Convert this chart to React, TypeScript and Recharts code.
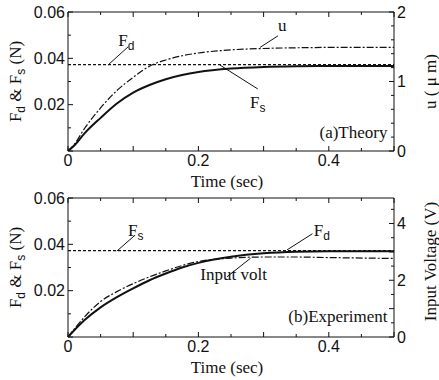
import React from 'react';
import { LineChart, Line, XAxis, YAxis, ReferenceLine, ReferenceDot } from 'recharts';

// ---------- data ----------
const timeTheory = [0, 0.01, 0.025, 0.05, 0.075, 0.1, 0.125, 0.15, 0.175, 0.2, 0.25, 0.3, 0.35, 0.4, 0.5];
const fsTheory = [0, 0.0025, 0.0075, 0.0143, 0.0205, 0.0252, 0.0285, 0.031, 0.0328, 0.0341, 0.0356, 0.0363, 0.0366, 0.0367, 0.0367];
const fdTheory = [0.0373, 0.0373, 0.0373, 0.0373, 0.0373, 0.0373, 0.0373, 0.0373, 0.0373, 0.0373, 0.0373, 0.0373, 0.0373, 0.0373, 0.0373];
const uTheory = [0, 0.1, 0.32, 0.62, 0.87, 1.06, 1.22, 1.31, 1.37, 1.41, 1.455, 1.475, 1.485, 1.49, 1.49];

const timeExp = [0, 0.025, 0.05, 0.075, 0.1, 0.125, 0.15, 0.175, 0.2, 0.25, 0.3, 0.35, 0.4, 0.5];
const fdExp = [0, 0.0072, 0.0128, 0.0172, 0.021, 0.0245, 0.0274, 0.03, 0.032, 0.0346, 0.0361, 0.0368, 0.037, 0.037];
const fsExp = [0.0373, 0.0373, 0.0373, 0.0373, 0.0373, 0.0373, 0.0373, 0.0373, 0.0373, 0.0373, 0.0373, 0.0373, 0.0373, 0.0373];
const voltExp = [0, 0.7, 1.25, 1.6, 1.88, 2.12, 2.33, 2.52, 2.66, 2.78, 2.82, 2.82, 2.8, 2.77];

const xTicks = [0, 0.05, 0.1, 0.15, 0.2, 0.25, 0.3, 0.35, 0.4, 0.45, 0.5];
const xLabels = [0, 0.2, 0.4];
const forceTicks = [0, 0.01, 0.02, 0.03, 0.04, 0.05, 0.06];
const forceLabels = [0.02, 0.04, 0.06];
const uTicks = [0, 0.2, 0.4, 0.6, 0.8, 1, 1.2, 1.4, 1.6, 1.8, 2];
const uLabels = [0, 1, 2];
const voltTicks = [0, 0.5, 1, 1.5, 2, 2.5, 3, 3.5, 4, 4.5];
const voltLabels = [0, 2, 4];

const theoryData = timeTheory.map((t, i) => ({ t, fs: fsTheory[i], fd: fdTheory[i], u: uTheory[i] }));
const expData = timeExp.map((t, i) => ({ t, fd: fdExp[i], fs: fsExp[i], v: voltExp[i] }));

// ---------- styles ----------
const SANS = '"Liberation Sans", Arial, Helvetica, sans-serif';
const SERIF = '"Liberation Serif", "Times New Roman", serif';
const INK = '#111';

const has = (arr: number[], v: number) => arr.some((a) => Math.abs(a - v) < 1e-9);
const isMult = (v: number, step: number) => Math.abs(v / step - Math.round(v / step)) < 1e-6;

const bottomTick = (labels: number[]) => (p: any) => {
  const v = p.payload.value;
  const len = isMult(v, 0.1) ? 5 : 3;
  return (
    <g>
      <line x1={p.x} y1={p.y} x2={p.x} y2={p.y - len} stroke={INK} strokeWidth={1} />
      {has(labels, v) ? (
        <text x={p.x} y={p.y + 15} textAnchor="middle" fontFamily={SANS} fontSize={16} fill={INK}>
          {String(v)}
        </text>
      ) : null}
    </g>
  );
};

const topTick = (p: any) => {
  const v = p.payload.value;
  const len = isMult(v, 0.1) ? 5 : 3;
  return <line x1={p.x} y1={p.y} x2={p.x} y2={p.y + len} stroke={INK} strokeWidth={1} />;
};

const leftTick = (labels: number[], major: number) => (p: any) => {
  const v = p.payload.value;
  const len = isMult(v, major) ? 5 : 3;
  return (
    <g>
      <line x1={p.x} y1={p.y} x2={p.x + len} y2={p.y} stroke={INK} strokeWidth={1} />
      {has(labels, v) ? (
        <text x={p.x - 3} y={p.y} dy="0.36em" textAnchor="end" fontFamily={SANS} fontSize={16} fill={INK}>
          {String(v)}
        </text>
      ) : null}
    </g>
  );
};

const rightTick = (labels: number[], major: number) => (p: any) => {
  const v = p.payload.value;
  const len = isMult(v, major) ? 5 : 3;
  return (
    <g>
      <line x1={p.x} y1={p.y} x2={p.x - len} y2={p.y} stroke={INK} strokeWidth={1} />
      {has(labels, v) ? (
        <text x={p.x + 3} y={p.y} dy="0.36em" textAnchor="start" fontFamily={SANS} fontSize={16} fill={INK}>
          {String(v)}
        </text>
      ) : null}
    </g>
  );
};

const Sub = ({ children }: { children: string }) => (
  <tspan dy={4} fontSize={12} fontFamily={SANS}>
    {children}
  </tspan>
);

const forceLabel = (p: any) => {
  const vb = p.viewBox;
  const cx = vb.x + 15;
  const cy = vb.y + vb.height / 2;
  return (
    <text x={cx} y={cy} transform={`rotate(-90 ${cx} ${cy})`} textAnchor="middle" dy="0.35em" fontFamily={SERIF} fontSize={17} fill={INK}>
      <tspan>F</tspan>
      <Sub>d</Sub>
      <tspan dy={-4}> &amp; F</tspan>
      <Sub>s</Sub>
      <tspan dy={-4}> (N)</tspan>
    </text>
  );
};

const rightLabel = (txt: string, dyc: number) => (p: any) => {
  const vb = p.viewBox;
  const cx = vb.x + 36;
  const cy = vb.y + vb.height / 2 + dyc;
  return (
    <text x={cx} y={cy} transform={`rotate(-90 ${cx} ${cy})`} textAnchor="middle" dy="0.35em" fontFamily={SERIF} fontSize={17} fill={INK}>
      {txt}
    </text>
  );
};

const timeLabel = (p: any) => {
  const vb = p.viewBox;
  return (
    <text x={vb.x + vb.width / 2 - 4} y={vb.y + 36} textAnchor="middle" fontFamily={SERIF} fontSize={17} fill={INK}>
      Time (sec)
    </text>
  );
};

const annText = (main: string, sub?: string, anchor: string = 'start') => (p: any) => {
  const vb = p.viewBox;
  return (
    <text x={vb.x} y={vb.y} textAnchor={anchor} fontFamily={SERIF} fontSize={17} fill={INK}>
      <tspan>{main}</tspan>
      {sub ? <Sub>{sub}</Sub> : null}
    </text>
  );
};

const W = 439;
const H = 190;

const App = () => (
  <div style={{ position: 'absolute', left: 0, top: 0, width: W, height: 380, background: '#fff' }}>
    {/* (a) Theory */}
    <LineChart width={W} height={H} data={theoryData} margin={{ top: 11, right: 0, bottom: 0, left: 0 }}>
      <XAxis xAxisId="top" orientation="top" dataKey="t" type="number" domain={[0, 0.5]} ticks={xTicks} interval={0}
        height={1} tickSize={0} tickMargin={0} tick={topTick} axisLine={{ stroke: INK }} tickLine={false} />
      <XAxis dataKey="t" type="number" domain={[0, 0.5]} ticks={xTicks} interval={0} height={39} tickSize={0} tickMargin={0}
        tick={bottomTick(xLabels)} axisLine={{ stroke: INK }} tickLine={false} label={timeLabel} />
      <YAxis yAxisId="left" type="number" domain={[0, 0.06]} ticks={forceTicks} interval={0} width={68} tickSize={0} tickMargin={0}
        tick={leftTick(forceLabels, 0.02)} axisLine={{ stroke: INK }} tickLine={false} allowDataOverflow label={forceLabel} />
      <YAxis yAxisId="right" orientation="right" type="number" domain={[0, 2]} ticks={uTicks} interval={0} width={45} tickSize={0} tickMargin={0}
        tick={rightTick(uLabels, 1)} axisLine={{ stroke: INK }} tickLine={false} allowDataOverflow label={rightLabel('u ( μ m)', 0)} />
      <Line yAxisId="left" dataKey="fd" type="linear" stroke={INK} strokeWidth={1.2} strokeDasharray="3 2" dot={false} isAnimationActive={false} />
      <Line yAxisId="right" dataKey="u" type="monotone" stroke={INK} strokeWidth={1.2} strokeDasharray="7 2 2 2" dot={false} isAnimationActive={false} />
      <Line yAxisId="left" dataKey="fs" type="monotone" stroke={INK} strokeWidth={2} dot={false} isAnimationActive={false} />
      <ReferenceLine yAxisId="left" segment={[{ x: 0.0613, y: 0.0371 }, { x: 0.092, y: 0.0449 }]} stroke={INK} strokeWidth={1} />
      <ReferenceDot yAxisId="left" x={0.077} y={0.0455} r={0} fill="none" stroke="none" label={annText('F', 'd')} />
      <ReferenceLine yAxisId="left" segment={[{ x: 0.2945, y: 0.0447 }, { x: 0.322, y: 0.0497 }]} stroke={INK} strokeWidth={1} />
      <ReferenceDot yAxisId="left" x={0.322} y={0.0516} r={0} fill="none" stroke="none" label={annText('u')} />
      <ReferenceLine yAxisId="left" segment={[{ x: 0.233, y: 0.0371 }, { x: 0.291, y: 0.0268 }]} stroke={INK} strokeWidth={1} />
      <ReferenceDot yAxisId="left" x={0.279} y={0.0186} r={0} fill="none" stroke="none" label={annText('F', 's')} />
      <ReferenceDot yAxisId="left" x={0.49} y={0.0056} r={0} fill="none" stroke="none" label={annText('(a)Theory', undefined, 'end')} />
    </LineChart>

    {/* (b) Experiment */}
    <LineChart width={W} height={H} data={expData} margin={{ top: 7, right: 0, bottom: 0, left: 0 }}>
      <XAxis xAxisId="top" orientation="top" dataKey="t" type="number" domain={[0, 0.5]} ticks={xTicks} interval={0}
        height={1} tickSize={0} tickMargin={0} tick={topTick} axisLine={{ stroke: INK }} tickLine={false} />
      <XAxis dataKey="t" type="number" domain={[0, 0.5]} ticks={xTicks} interval={0} height={43} tickSize={0} tickMargin={0}
        tick={bottomTick(xLabels)} axisLine={{ stroke: INK }} tickLine={false} label={timeLabel} />
      <YAxis yAxisId="left" type="number" domain={[0, 0.06]} ticks={forceTicks} interval={0} width={68} tickSize={0} tickMargin={0}
        tick={leftTick(forceLabels, 0.02)} axisLine={{ stroke: INK }} tickLine={false} allowDataOverflow label={forceLabel} />
      <YAxis yAxisId="right" orientation="right" type="number" domain={[0, 4.9]} ticks={voltTicks} interval={0} width={45} tickSize={0} tickMargin={0}
        tick={rightTick(voltLabels, 1)} axisLine={{ stroke: INK }} tickLine={false} allowDataOverflow label={rightLabel('Input Voltage (V)', -6)} />
      <Line yAxisId="left" dataKey="fs" type="linear" stroke={INK} strokeWidth={1.2} strokeDasharray="3 2" dot={false} isAnimationActive={false} />
      <Line yAxisId="right" dataKey="v" type="monotone" stroke={INK} strokeWidth={1.2} strokeDasharray="7 2 2 2" dot={false} isAnimationActive={false} />
      <Line yAxisId="left" dataKey="fd" type="monotone" stroke={INK} strokeWidth={2} dot={false} isAnimationActive={false} />
      <ReferenceLine yAxisId="left" segment={[{ x: 0.075, y: 0.0371 }, { x: 0.103, y: 0.044 }]} stroke={INK} strokeWidth={1} />
      <ReferenceDot yAxisId="left" x={0.092} y={0.0436} r={0} fill="none" stroke="none" label={annText('F', 's')} />
      <ReferenceLine yAxisId="left" segment={[{ x: 0.336, y: 0.0376 }, { x: 0.375, y: 0.0446 }]} stroke={INK} strokeWidth={1} />
      <ReferenceDot yAxisId="left" x={0.377} y={0.0436} r={0} fill="none" stroke="none" label={annText('F', 'd')} />
      <ReferenceLine yAxisId="left" segment={[{ x: 0.244, y: 0.026 }, { x: 0.28, y: 0.034 }]} stroke={INK} strokeWidth={1} />
      <ReferenceDot yAxisId="left" x={0.203} y={0.0246} r={0} fill="none" stroke="none" label={annText('Input volt')} />
      <ReferenceDot yAxisId="left" x={0.49} y={0.0066} r={0} fill="none" stroke="none" label={annText('(b)Experiment', undefined, 'end')} />
    </LineChart>
  </div>
);

export default App;
